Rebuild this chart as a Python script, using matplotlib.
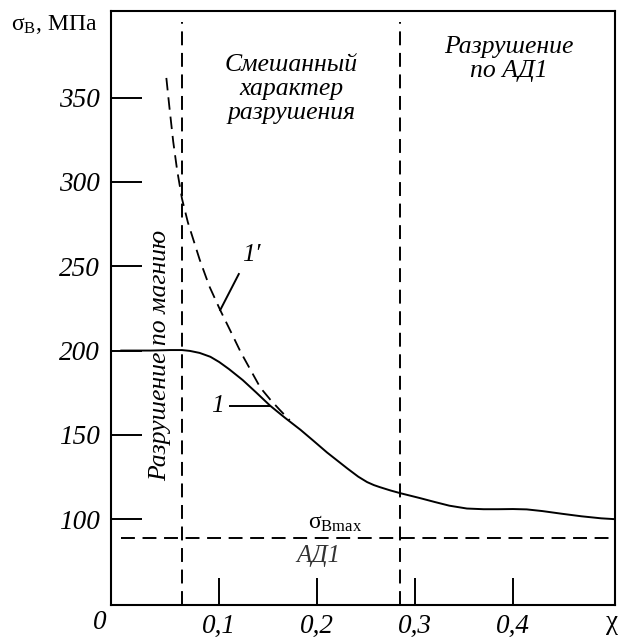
import matplotlib
matplotlib.use("Agg")
import matplotlib.pyplot as plt

plt.rcParams['font.family'] = ['Liberation Serif', 'DejaVu Serif']
plt.rcParams['mathtext.fontset'] = 'custom'
plt.rcParams['mathtext.rm'] = 'Liberation Serif'
plt.rcParams['mathtext.it'] = 'Liberation Serif:italic'
plt.rcParams['lines.scale_dashes'] = False

# strength of the composite vs. volume fraction of the AD1 layer
chi_1 = [0.0, 0.03, 0.05, 0.062, 0.07, 0.08, 0.091, 0.10, 0.11, 0.124, 0.138,
         0.152, 0.167, 0.183, 0.196, 0.21, 0.231, 0.242, 0.251, 0.258, 0.264,
         0.275, 0.285, 0.305, 0.32, 0.335, 0.353, 0.37, 0.385, 0.40, 0.414,
         0.43, 0.45, 0.47, 0.49, 0.504]
sigma_1 = [200, 200, 200.3, 200.3, 199.8, 198.6, 196.3, 193.2, 189.0, 182.5,
           175.0, 167.3, 160.2, 153.0, 146.6, 139.6, 130.0, 125.2, 122.0,
           120.2, 119.0, 117.0, 115.4, 112.5, 110.2, 108.0, 106.3, 105.9,
           105.9, 106, 105.8, 104.8, 103.2, 101.7, 100.5, 100]

# curve 1'
chi_1p = [0.046, 0.049, 0.053, 0.057, 0.062, 0.068, 0.074, 0.08, 0.09, 0.101,
          0.112, 0.122, 0.132, 0.142, 0.152, 0.162, 0.172]
sigma_1p = [361.7, 345, 324, 307, 290, 276, 265, 254, 238, 224, 211, 199,
            188.5, 178, 171, 164.7, 158.7]

sigma_ad1 = 89          # sigma_Bmax of AD1
chi_bounds = [0.062, 0.285]

y_ticks = [100, 150, 200, 250, 300, 350]
x_ticks = [0.1, 0.2, 0.3, 0.4]
x_tick_labels = ['0,1', '0,2', '0,3', '0,4']

fig = plt.figure(figsize=(6.21, 6.37), dpi=100)
ax = fig.add_axes([0.178, 0.050, 0.812, 0.933])
ax.set_xlim(-0.011, 0.504)
ax.set_ylim(49, 401.5)

ax.plot(chi_1, sigma_1, color='black', lw=1.4)
ax.plot(chi_1p, sigma_1p, color='black', lw=1.3, dashes=(9, 5))

for xb in chi_bounds:
    ax.plot([xb, xb], [49, 395], color='black', lw=1.4, dashes=(10, 5.5))
ax.plot([0, 0.504], [sigma_ad1, sigma_ad1], color='black', lw=1.4, dashes=(10, 5.5))

for sp in ax.spines.values():
    sp.set_linewidth(1.5)

ax.set_yticks(y_ticks)
ax.set_yticklabels([str(v) for v in y_ticks], fontstyle='italic', fontsize=19.5)
ax.set_xticks(x_ticks)
ax.set_xticklabels(x_tick_labels, fontstyle='italic', fontsize=19.5)
ax.tick_params(axis='y', direction='in', length=22, width=1.4, pad=8)
ax.tick_params(axis='x', direction='in', length=19.5, width=1.4, pad=6)

ax.text(-0.0225, 38.6, '0', fontstyle='italic', fontsize=19.5,
        ha='center', va='center', clip_on=False)
ax.text(0.501, 38.6, 'χ', fontsize=19.5, ha='center', va='center', clip_on=False)

fig.text(0.018, 0.962, r'$\mathrm{σ_B}$, МПа', fontsize=17, ha='left', va='center')

ax.text(0.1735, 355, 'Смешанный\nхарактер\nразрушения', fontstyle='italic',
        fontsize=18.5, ha='center', va='center', linespacing=1.12)
ax.text(0.396, 373, 'Разрушение\nпо АД1', fontstyle='italic',
        fontsize=18.5, ha='center', va='center', linespacing=1.12)
ax.text(0.040, 197, 'Разрушение по магнию', fontstyle='italic',
        fontsize=18.5, ha='center', va='center', rotation=90)

ax.text(0.218, 97.5, r'$\mathrm{σ_{Bmax}}$', fontsize=17, ha='center', va='center')
ax.text(0.201, 78, 'АД1', fontstyle='italic', fontsize=18, color='#333333',
        ha='center', va='center')

# curve labels with leader lines
ax.text(0.133, 256.7, "1′", fontstyle='italic', fontsize=18.5, ha='center', va='center')
ax.plot([0.120, 0.101], [245.4, 224], color='black', lw=1.4)
ax.text(0.098, 167, '1', fontstyle='italic', fontsize=18.5, ha='center', va='center')
ax.plot([0.111, 0.152], [167, 167], color='black', lw=1.4)

fig.savefig('out.png', dpi=100)
